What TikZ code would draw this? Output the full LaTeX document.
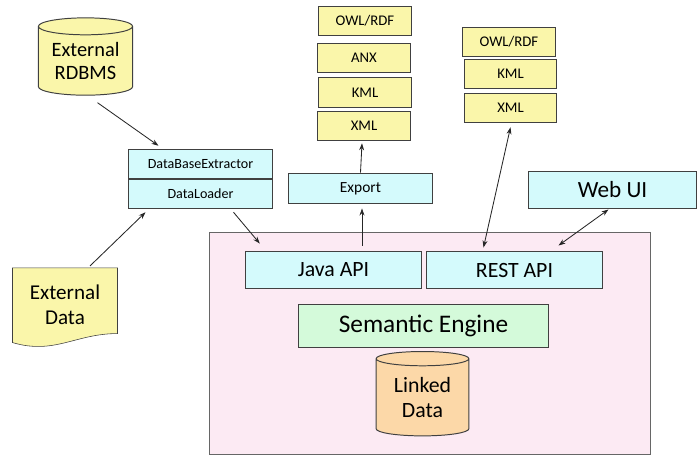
\documentclass[tikz,border=0pt]{standalone}
\usepackage{fontspec}
\setmainfont{Carlito}
\usetikzlibrary{shapes.geometric,arrows.meta,calc,backgrounds}
\definecolor{dbyellow}{RGB}{250,246,170}
\definecolor{apicyan}{RGB}{212,250,252}
\definecolor{enggreen}{RGB}{212,250,218}
\definecolor{corepink}{RGB}{252,234,243}
\definecolor{ldorange}{RGB}{252,216,168}
\begin{document}
\begin{tikzpicture}[x=0.025cm,y=-0.025cm,line width=0.7pt,
		box/.style={draw=black!75,fill=apicyan,rectangle,inner sep=0pt,align=center},
		fmt/.style={draw=black!75,fill=dbyellow,rectangle,inner sep=0pt,minimum width=66pt,minimum height=21pt,font=\fontsize{10.5}{12}\selectfont},
		db/.style={draw=black!75,cylinder,shape border rotate=90,aspect=0.25,inner sep=0pt,align=center},
		arr/.style={draw=black!85,line width=0.6pt,-{Stealth[length=5pt,width=3.5pt]}},
		darr/.style={arr,{Stealth[length=5pt,width=3.5pt]}-{Stealth[length=5pt,width=3.5pt]}}]
		\useasboundingbox (0,0) rectangle (698,456);
		\draw[draw=black!60,fill=corepink] (209,232) rectangle (650,454);
		\node[db,fill=dbyellow,minimum width=67pt,minimum height=55pt,font=\fontsize{14.5}{17}\selectfont] (rdbms) at (85.5,61) {External\\RDBMS};
		\node[rectangle,minimum width=74pt,minimum height=52pt,inner sep=0pt,align=center,font=\fontsize{15}{18}\selectfont] (extdata) at (65,305) {External\\Data};
		\begin{scope}[on background layer]
			\draw[draw=black!75,fill=dbyellow] (extdata.north west) -- (extdata.north east) -- ($(extdata.south east)+(0,-8.5)$)
				.. controls ($(extdata.south east)+(-42,-8.5)$) and ($(extdata.south west)+(42,13)$) .. ($(extdata.south west)+(0,0.5)$) -- cycle;
		\end{scope}
		\node[box,minimum width=103pt,minimum height=21pt,font=\fontsize{10}{12}\selectfont] (dbe) at (200.5,164) {DataBaseExtractor};
		\node[box,minimum width=103pt,minimum height=21pt,font=\fontsize{10}{12}\selectfont] (dl) at (200.5,194) {DataLoader};
		\node[box,minimum width=103pt,minimum height=22pt,font=\fontsize{11}{13}\selectfont] (export) at (360.5,188.5) {Export};
		\node[fmt] (owla) at (365,21) {OWL/RDF};
		\node[fmt] (anx) at (364,58) {ANX};
		\node[fmt] (kmla) at (365,92.5) {KML};
		\node[fmt] (xmla) at (364,126) {XML};
		\node[fmt] (owlb) at (509,42) {OWL/RDF};
		\node[fmt] (kmlb) at (510.5,74) {KML};
		\node[fmt] (xmlb) at (510.5,108) {XML};
		\node[box,minimum width=120pt,minimum height=27pt,font=\fontsize{16.5}{19}\selectfont] (webui) at (612.5,190) {Web UI};
		\node[box,minimum width=125.5pt,minimum height=27pt,font=\fontsize{15.5}{18}\selectfont] (java) at (333.5,270) {Java API};
		\node[box,minimum width=125.5pt,minimum height=27pt,font=\fontsize{15.5}{18}\selectfont] (rest) at (514.5,270) {REST API};
		\node[box,fill=enggreen,minimum width=178pt,minimum height=31pt,font=\fontsize{18}{21}\selectfont] (engine) at (423.5,326) {Semantic Engine};
		\node[db,fill=ldorange,minimum width=66pt,minimum height=60pt,font=\fontsize{15.5}{18}\selectfont] (linked) at (422.5,397.5) {Linked\\Data};
		\draw[arr] ($(rdbms.south)+(12,7)$) -- ($(dbe.north)+(-42,-3)$);
		\draw[arr] ($(extdata.north)+(25,-2)$) -- ($(dl.south)+(-55,3)$);
		\draw[arr] ($(dl.south)+(33,3)$) -- ($(java.north west)+(15,-7)$);
		\draw[arr] ($(java.north)+(28.5,-5)$) -- ($(export.south)+(1.5,4)$);
		\draw[arr] (export.north) -- ($(xmla.south)+(-2,2)$);
		\draw[darr] ($(xmlb.south)+(0,4)$) -- ($(rest.north)+(-31,-3)$);
		\draw[darr] ($(webui.south)+(-4,0)$) -- ($(rest.north)+(44,-5)$);
\end{tikzpicture}
\end{document}
